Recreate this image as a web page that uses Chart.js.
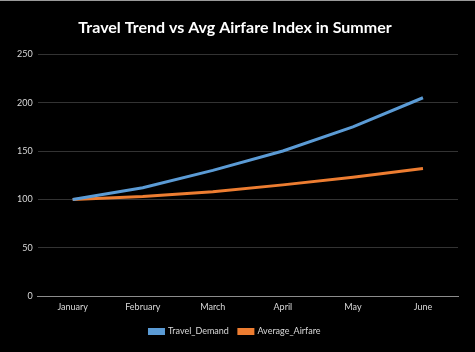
<!DOCTYPE html>
<html>
<head>
<meta charset="utf-8">
<script src="https://cdn.jsdelivr.net/npm/chart.js@4"></script>
<style>
  html, body { margin: 0; padding: 0; background: #000; }
  body { border-top: 1px solid #9a9a9a; box-sizing: border-box; width: 475px; height: 352px; }
  #wrap { width: 475px; height: 351px; }
</style>
</head>
<body>
<div id="wrap"><canvas id="myChart"></canvas></div>
<script>
const months = ["January", "February", "March", "April", "May", "June"];
const travelDemand = [100, 112, 130, 150, 175, 205];
const averageAirfare = [100, 103, 108, 115, 123, 132];

const ctx = document.getElementById('myChart').getContext('2d');
const myChart = new Chart(ctx, {
    type: 'line',
    data: {
        labels: months,
        datasets: [{
            label: 'Travel_Demand',
            data: travelDemand,
            borderColor: '#5B9BD5',
            backgroundColor: '#5B9BD5',
            borderWidth: 3,
            pointRadius: 0,
            tension: 0
        }, {
            label: 'Average_Airfare',
            data: averageAirfare,
            borderColor: '#ED7D31',
            backgroundColor: '#ED7D31',
            borderWidth: 3,
            pointRadius: 0,
            tension: 0
        }]
    },
    options: {
        responsive: true,
        maintainAspectRatio: false,
        animation: false,
        layout: { padding: { left: 12, right: 17, top: 4, bottom: 6 } },
        plugins: {
            title: {
                display: true,
                text: 'Travel Trend vs Avg Airfare Index in Summer',
                color: '#ffffff',
                font: { family: 'Lato', size: 16, weight: 'bold' },
                padding: { top: 13, bottom: 17 }
            },
            legend: {
                position: 'bottom',
                labels: {
                    color: '#d9d9d9',
                    font: { family: 'Lato', size: 9 },
                    boxWidth: 14,
                    boxHeight: 4,
                    padding: 10
                }
            },
            tooltip: { enabled: false }
        },
        scales: {
            x: {
                offset: true,
                grid: { display: false, drawTicks: false },
                border: { color: '#8c8c8c', width: 1 },
                ticks: { color: '#d9d9d9', font: { family: 'Lato', size: 9 }, maxRotation: 0, padding: 5 }
            },
            y: {
                min: 0,
                max: 250,
                ticks: { stepSize: 50, color: '#d9d9d9', font: { family: 'Lato', size: 9 }, padding: 5 },
                grid: { color: '#333333', drawTicks: false },
                border: { display: false }
            }
        }
    }
});
</script>
</body>
</html>
